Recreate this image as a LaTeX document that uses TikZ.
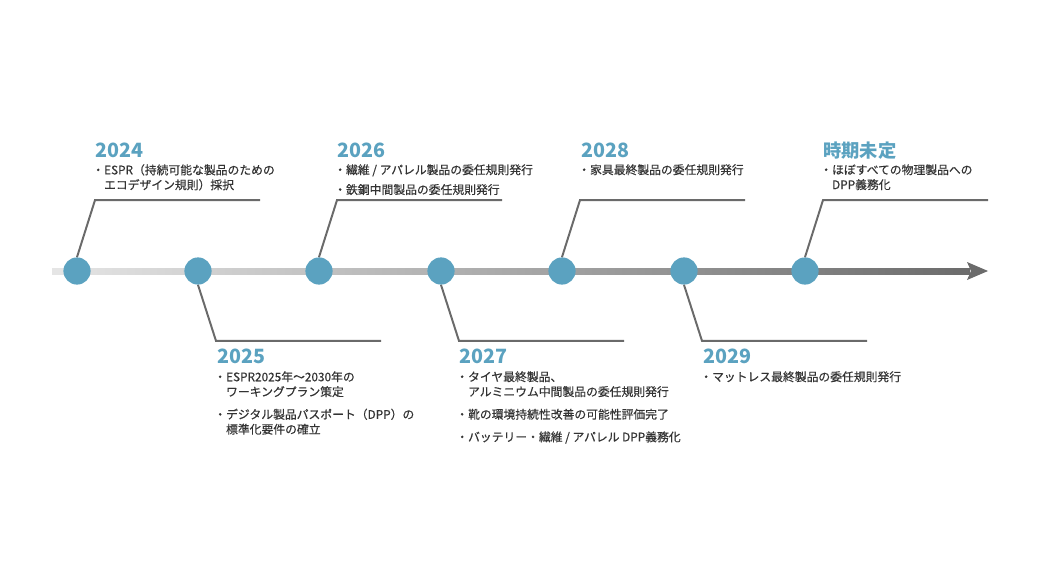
\documentclass[tikz,border=0pt]{standalone}
\usepackage{fontspec}
\setmainfont{Noto Sans CJK JP}
\newfontfamily\itemfont[RawFeature={embolden=0.5}]{Noto Sans CJK JP}
\usetikzlibrary{positioning}
\definecolor{dotblue}{HTML}{5BA2C0}
\definecolor{leadgray}{HTML}{6A6A6A}
\definecolor{textgray}{HTML}{333333}
\tikzstyle{dot}=[circle,fill=dotblue,minimum size=0.68cm,inner sep=0pt]
\tikzstyle{leader}=[draw=leadgray,line width=1.4pt]
\tikzstyle{year}=[anchor=base west,inner sep=0pt,text=dotblue,font=\fontsize{14}{14}\selectfont\bfseries]
\tikzstyle{item}=[anchor=north west,inner sep=0pt,align=left,text=textgray,font=\itemfont\fontsize{8.4}{10.6}\selectfont]

\begin{document}
\begin{tikzpicture}[x=0.025cm,y=-0.025cm]

  \useasboundingbox (0,0) rectangle (1040,585);

  % time axis
  \coordinate (start) at (52,271);
  \coordinate (tip) at (988,271);
  \shade[left color=black!10, right color=black!58] ([yshift=0.075cm]start) rectangle ([xshift=-0.45cm,yshift=-0.075cm]tip);
  \fill[black!58] (tip) -- ++(-21,-9) -- ++(4,9) -- ++(-4,9) -- cycle;

  \foreach \x/\name in {77/d2024, 198/d2025, 319/d2026, 441/d2027, 562/d2028, 684/d2029, 805/dtbd}
    \node[dot] (\name) at (\x,271) {};

  \foreach \name in {d2024, d2026, d2028, dtbd}
    \draw[leader] (\name.north) -- ++(18,-57) -- ++(165,0);
  \foreach \name in {d2025, d2027, d2029}
    \draw[leader] (\name.south) -- ++(18,56) -- ++(165,0);

  % upper labels
  \node[year] (y2024) at (95,157) {2024};
  \node[item] (t2024) at (92,164) {・ESPR（持続可能な製品のための\\\phantom{・}エコデザイン規則）採択};
  \node[year] (y2026) at (337,157) {2026};
  \node[item] (t2026) at (334,164) {・繊維 / アパレル製品の委任規則発行\\[3.5pt]・鉄鋼中間製品の委任規則発行};
  \node[year] (y2028) at (581,157) {2028};
  \node[item] (t2028) at (578,164) {・家具最終製品の委任規則発行};
  \node[year,font=\fontsize{13}{13}\selectfont\bfseries] (ytbd) at (823,157) {時期未定};
  \node[item] (ttbd) at (820,164) {・ほぼすべての物理製品への\\\phantom{・}DPP義務化};

  % lower labels
  \node[year] (y2025) at (217,363) {2025};
  \node[item] (t2025) at (214,371) {・ESPR2025年〜2030年の\\\phantom{・}ワーキングプラン策定\\[5.5pt]・デジタル製品パスポート（DPP）の\\\phantom{・}標準化要件の確立};
  \node[year] (y2027) at (459,363) {2027};
  \node[item] (t2027) at (456,371) {・タイヤ最終製品、\\\phantom{・}アルミニウム中間製品の委任規則発行\\[5.5pt]・靴の環境持続性改善の可能性評価完了\\[5.5pt]・バッテリー・繊維 / アパレル DPP義務化};
  \node[year] (y2029) at (703,363) {2029};
  \node[item] (t2029) at (700,371) {・マットレス最終製品の委任規則発行};

\end{tikzpicture}
\end{document}
